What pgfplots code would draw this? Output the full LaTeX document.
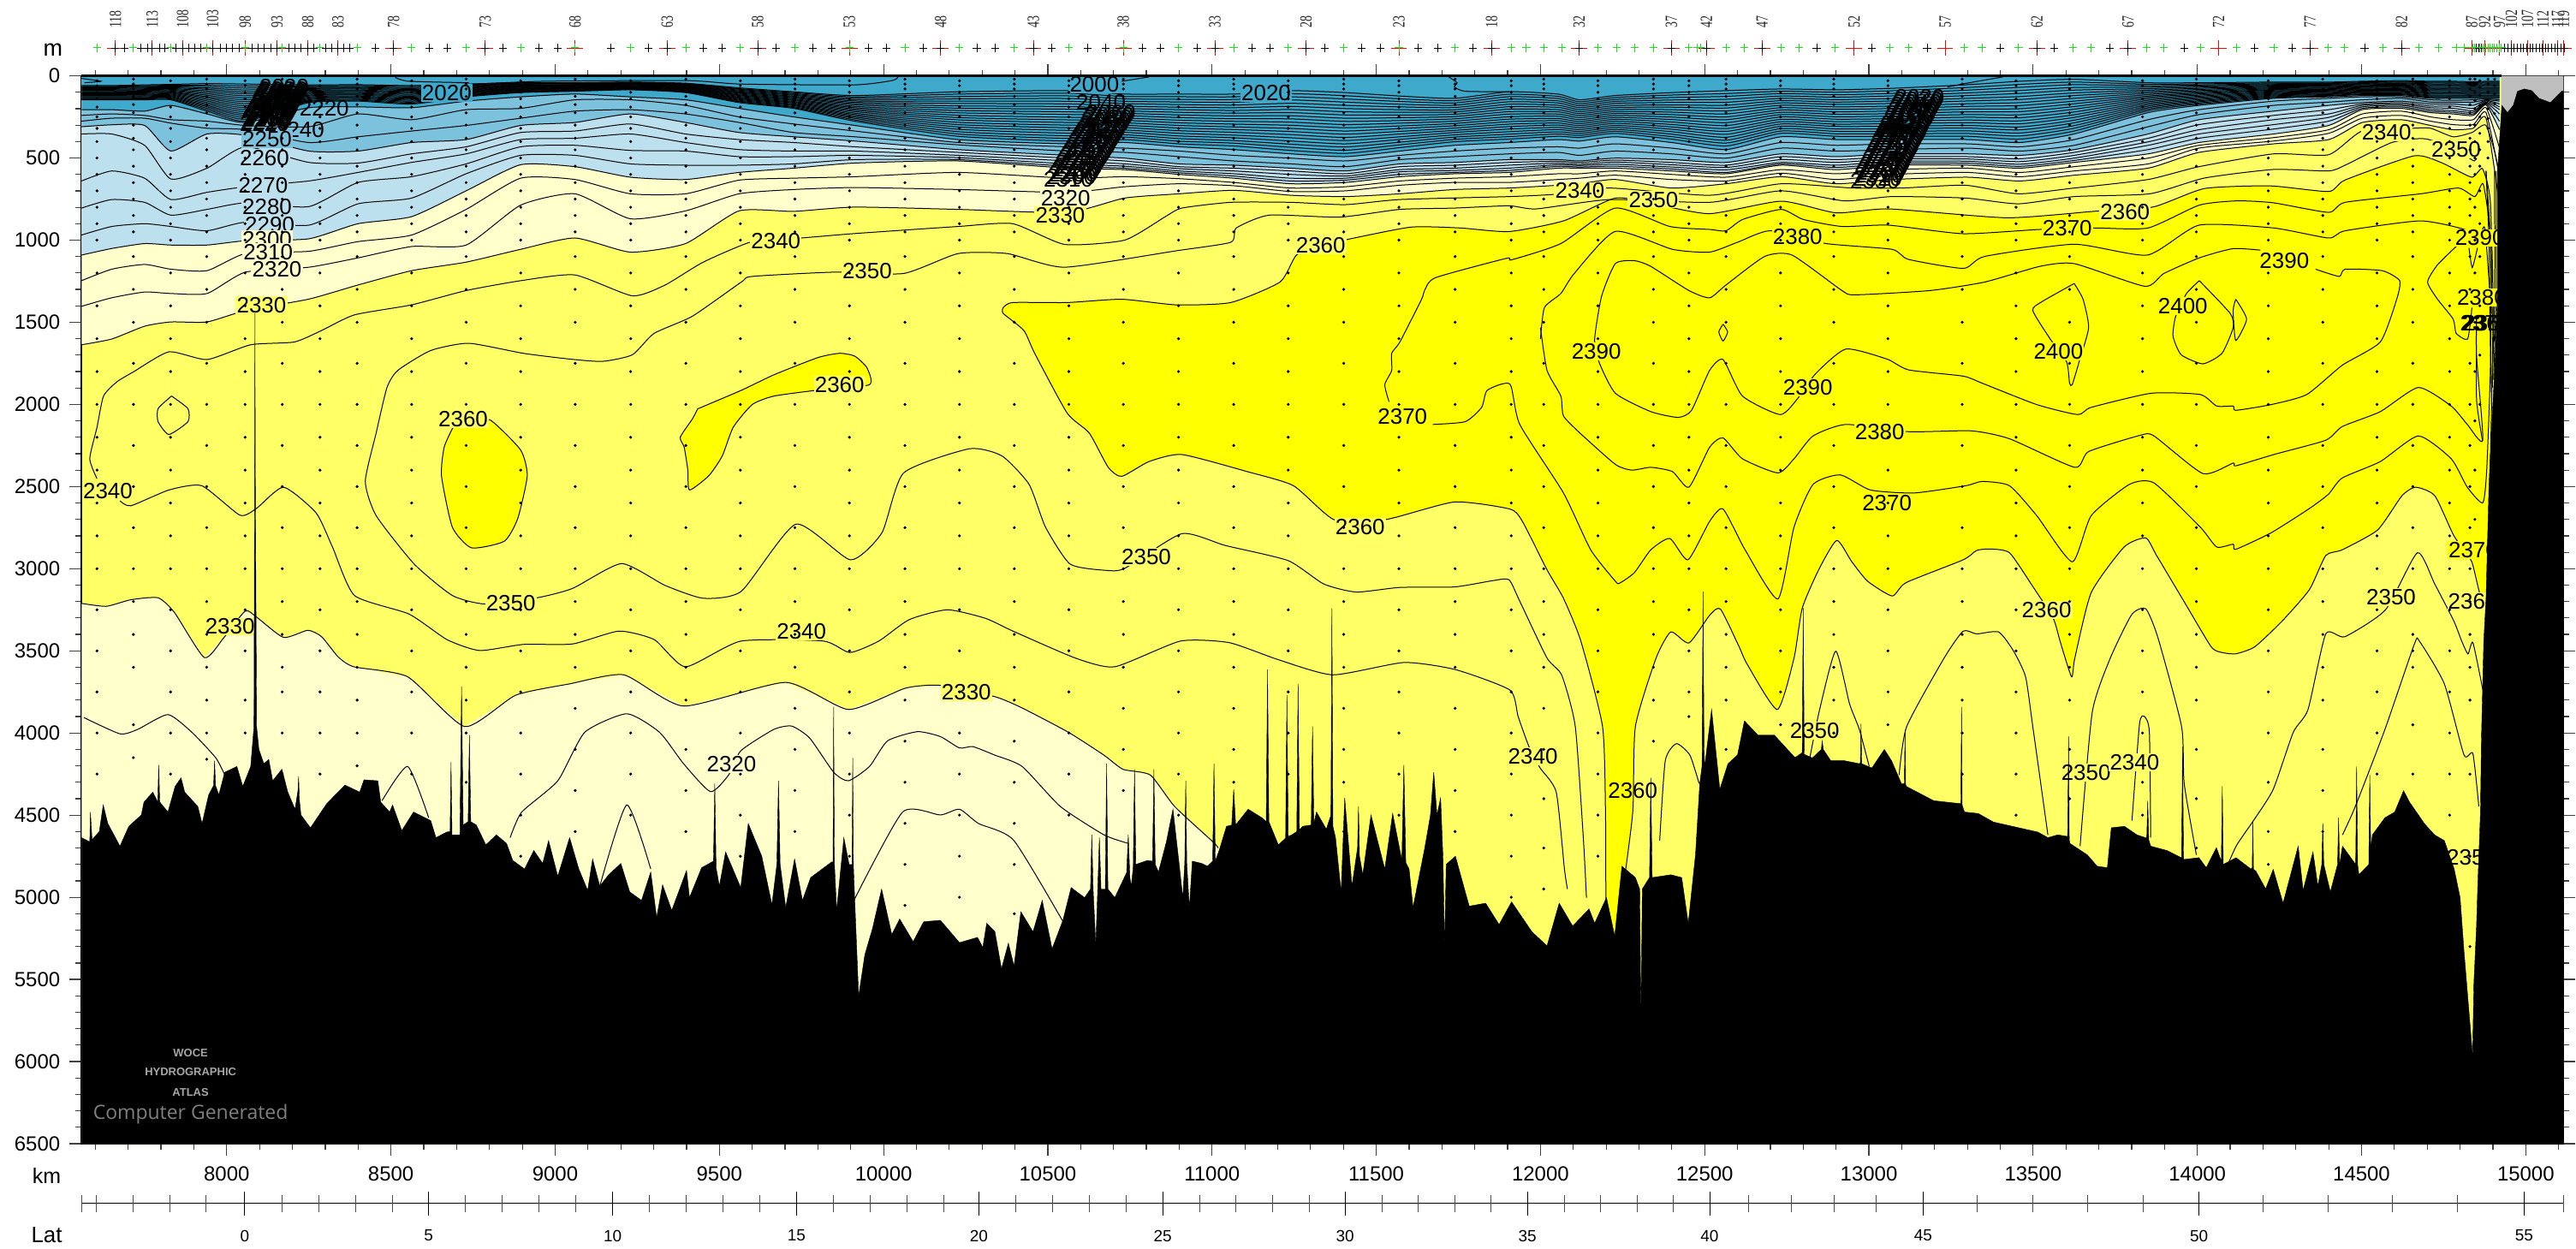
\documentclass[border=0pt]{standalone}
\usepackage{fontspec}
\usepackage{graphicx}
\usepackage{pgfplots}
\usepackage{pgfplotstable}
\pgfplotsset{compat=1.18}
\setmainfont{Liberation Sans}
\newfontfamily\serifst{Liberation Serif}
\newfontfamily\opensans{Open Sans}
\definecolor{teal}{HTML}{3FA9CC}
\definecolor{mid}{HTML}{7DC2DC}
\definecolor{light}{HTML}{BDE0EE}
\definecolor{pale}{HTML}{FFFFCC}
\definecolor{ya}{HTML}{FFFF66}
\definecolor{yb}{HTML}{FFFF00}
\definecolor{grn}{HTML}{22DD22}
\tikzset{lab/.style={inner sep=.6pt,font=\fontsize{13}{14}\selectfont}}
\pgfplotstableread[header=false]{
7558 59 64 68 73 77 82 87 91 96 100 105 109 114 119 123 128 132 137 141 146 206 241 276 310 354 640 805 969 1091 1247 1403 1637
7650 59 64 68 73 77 82 87 91 96 100 105 109 114 119 123 128 132 137 141 146 206 232 258 298 354 579 753 917 1051 1177 1351 1602
7750 55 60 65 69 74 79 84 89 93 98 103 108 113 117 122 127 132 136 141 146 215 241 258 302 423 623 770 900 1021 1148 1316 1524
7830 52 57 62 67 72 77 82 87 92 97 101 106 111 116 121 126 131 136 141 146 180 267 288 458 628 753 848 917 1030 1177 1325 1498
7940 47 56 65 74 82 91 100 109 118 127 135 144 153 162 171 180 188 197 206 215 232 276 319 354 562 709 813 943 1030 1186 1325 1498
8057 50 62 74 86 98 109 121 133 145 157 169 181 193 205 217 229 240 252 264 276 284 302 328 362 432 675 773 891 1004 1082 1195 1429
8250 55 61 66 72 78 83 89 95 101 106 112 118 123 129 135 140 146 152 157 163 194 310 406 458 527 640 796 909 992 1068 1165 1359
8400 54 59 65 70 75 80 86 91 96 102 107 112 117 123 128 133 138 144 149 154 189 232 371 458 531 588 649 779 900 1009 1108 1273
8563 59 65 71 77 83 89 95 101 106 112 118 124 130 136 142 148 154 160 166 172 194 267 336 406 475 527 614 744 857 969 1039 1186
8729 50 54 58 62 66 71 75 79 83 87 91 95 99 103 107 112 116 120 124 128 154 206 302 388 432 475 536 596 700 813 1030 1134
8895 42 45 48 51 55 58 61 64 67 70 74 77 80 83 86 89 93 96 99 102 128 198 258 302 345 388 432 484 541 623 787 1056
9060 42 45 47 50 53 56 58 61 64 67 69 72 75 77 80 83 86 88 91 94 111 146 215 284 336 380 423 484 553 631 718 987
9229 38 40 43 45 48 50 53 55 58 60 63 65 68 70 73 75 78 80 83 85 128 146 206 232 293 354 454 536 617 718 870 1073
9397 45 48 51 54 57 60 63 66 69 72 75 78 81 84 87 90 93 96 99 102 146 180 232 284 354 406 458 544 631 718 822 1021
9560 73 78 82 87 92 97 101 106 111 116 120 125 130 135 139 144 149 154 158 163 198 250 284 345 388 449 492 544 588 635 718 822
9726 97 102 108 113 118 124 129 134 140 145 150 156 161 166 172 177 182 188 193 198 250 293 345 371 406 458 492 536 562 623 692 825
9912 120 128 136 145 153 161 169 177 186 194 202 210 218 227 235 243 251 259 268 276 302 336 371 397 432 458 484 510 531 614 680 799
10227 97 111 126 140 154 168 183 197 211 225 240 254 268 283 297 311 325 340 354 368 388 406 420 449 466 484 498 510 518 588 692 813
10560 90 106 122 138 155 171 187 203 219 235 252 268 284 300 316 332 349 365 381 397 414 432 458 484 501 518 536 550 562 623 709 831
10734 111 126 140 155 169 184 199 213 228 242 257 271 286 301 315 330 344 359 373 388 406 440 466 501 518 536 550 562 571 614 675 744
10900 111 127 143 159 175 191 206 222 238 254 270 286 302 318 334 350 366 382 398 414 432 458 492 536 553 565 579 590 600 626 657 718
11066 111 128 144 161 178 194 211 227 244 261 277 294 311 327 344 361 377 394 410 427 449 484 518 544 562 579 596 610 623 649 669 697
11240 90 109 128 147 167 186 205 224 243 262 282 301 320 339 358 377 397 416 435 454 475 501 536 562 579 600 623 640 657 683 704 727
11406 102 121 141 160 180 199 219 238 258 277 297 316 336 355 375 394 414 433 453 472 492 518 553 579 596 610 623 635 649 675 700 735
11572 123 140 156 173 189 206 222 239 255 272 288 305 321 338 354 371 387 404 420 437 458 484 510 536 553 571 584 600 614 640 666 718
11738 137 151 165 179 193 207 220 234 248 262 276 290 304 318 332 345 359 373 387 401 423 458 492 527 544 562 576 588 596 623 649 692
11904 97 112 127 142 158 173 188 203 218 233 249 264 279 294 309 324 340 355 370 385 406 440 475 510 527 544 562 576 588 614 649 683
12053 111 125 138 152 165 179 192 206 219 233 246 260 273 287 300 314 327 341 354 368 388 432 466 510 520 531 541 551 562 596 631 666
12120 146 158 170 182 194 206 218 230 242 254 267 279 291 303 315 327 339 351 363 375 397 440 484 518 527 538 546 555 562 596 623 657
12228 120 132 144 156 168 181 193 205 217 229 241 253 265 277 289 302 314 326 338 350 371 414 458 501 513 525 538 550 562 579 605 631
12399 102 117 132 147 162 177 191 206 221 236 251 266 281 296 311 325 340 355 370 385 406 440 475 510 527 541 555 567 579 600 631 683
12565 90 108 125 143 161 179 196 214 232 250 267 285 303 321 338 356 374 392 409 427 449 475 501 527 544 558 572 588 596 617 640 657
12733 80 94 108 123 137 151 165 179 194 208 222 236 250 265 279 293 307 321 336 350 371 406 440 475 492 510 527 536 544 571 593 614
12900 85 100 115 130 145 160 174 189 204 219 234 249 264 279 294 308 323 338 353 368 388 423 458 492 510 527 544 558 571 596 631 657
13070 76 91 107 122 138 153 168 184 199 214 230 245 261 276 291 307 322 338 353 368 388 414 449 475 492 506 520 532 544 571 600 631
13300 54 71 87 104 120 137 153 170 186 203 219 236 252 269 285 302 318 335 351 368 388 414 440 475 492 506 520 532 544 562 588 617
13460 33 52 70 89 107 126 144 163 181 200 218 237 255 274 292 311 329 348 366 385 406 432 458 484 505 522 538 551 562 588 614 640
13625 21 38 54 71 87 104 120 137 154 170 187 203 220 237 253 270 286 303 319 336 354 388 423 449 466 484 501 515 527 553 579 605
13850 42 51 60 69 78 87 96 105 114 123 131 140 149 158 167 176 185 194 203 212 224 267 310 354 380 402 423 449 475 501 536 562
14005 42 49 56 62 69 76 83 90 97 104 110 117 124 131 138 145 152 158 165 172 180 206 236 267 297 328 354 380 406 423 440 466
14232 38 43 48 53 58 63 68 73 78 83 87 92 97 102 107 112 117 122 127 132 137 154 180 215 241 267 297 324 354 376 397 414
14400 38 43 47 52 56 61 65 70 74 79 83 88 92 97 101 106 110 114 119 123 128 137 160 180 206 232 253 276 302 328 350 388
14502 33 37 42 46 50 54 59 63 67 71 76 80 84 88 93 97 101 105 110 114 120 128 146 163 172 180 189 198 206 232 258 284
14620 29 34 38 43 47 52 56 61 65 70 74 79 83 88 92 96 101 105 110 114 120 128 137 154 163 172 180 189 198 215 241 267
14710 33 38 43 49 54 59 64 70 75 80 85 90 96 101 106 111 117 122 127 132 137 146 160 172 184 194 205 215 224 250 276 302
14779 33 38 43 49 54 59 64 70 75 80 85 90 96 101 106 111 117 122 127 132 137 149 160 172 184 198 212 222 232 267 297 328
14840 36 41 46 51 56 61 66 71 76 81 87 92 97 102 107 112 117 122 127 132 137 146 160 180 198 212 222 232 241 267 297 319
14879 33 38 43 49 54 59 64 70 75 80 85 90 96 101 106 111 117 122 127 132 137 140 146 149 153 160 165 170 177 194 224 258
14920 33 38 43 49 54 59 64 70 75 80 85 90 96 101 106 111 117 122 127 132 137 146 154 172 189 206 232 276 328 440 614 787
}\T
\def\dotlist{}
\def\col#1#2{\edef\tmpl{#2}\foreach \d in \tmpl {\xdef\dotlist{\dotlist (#1,\d)}}}
\def\Ua{30,60,100,140,190,250,320,400,500,600,700,800,900,1000,1200,1400,1600,1800,2000,2200,2400,2600,2800,3000,3250,3500}
\def\Ub{20,50,80,125,175,225,300,380,450,550,650,750,850,950,1100,1300,1500,1750,2000,2250,2500,2750,3000,3200,3400,3600}
\col{7605}{\Ua,3750,4000,4250}
\col{7716}{\Ub,3950,4150}
\col{7829}{\Ua,3750,4000,4250}
\col{7939}{\Ub,3800,4000,4160}
\col{8056}{\Ua,3800,4000}
\col{8169}{\Ub,3750,4000,4250}
\col{8284}{\Ua,3750,4000,4250}
\col{8397}{\Ub,3800,4000,4200}
\col{8563}{\Ua,3750,4000,4250}
\col{8729}{\Ub,3800,4000,4300}
\col{8895}{\Ua,3750,4000,4250,4500,4750}
\col{9061}{\Ub,3850,4100,4350,4600,4850}
\col{9230}{\Ua,3750,4000,4250,4500}
\col{9398}{\Ub,3800,4100,4350,4600}
\col{9564}{\Ua,3750,4000,4250,4500,4750}
\col{9730}{\Ub,3850,4100,4350,4600}
\col{9896}{\Ua,3750,4000,4250,4500,4750}
\col{10065}{\Ub,3800,4050,4300,4550,4800,5050}
\col{10231}{\Ua,3750,4000,4250,4500,4750,5000}
\col{10398}{\Ub,3800,4050,4300,4550,4800,5100}
\col{10564}{\Ua,3750,4000,4250,4500}
\col{10730}{\Ub,3850,4100,4350}
\col{10898}{\Ua,3750,4000,4250,4500}
\col{11066}{\Ub,3850,4100,4300}
\col{11232}{\Ua,3750,4000,4250}
\col{11401}{\Ub,3850,4100,4300,4600,4850}
\col{11569}{\Ua,3750,4000,4250,4500}
\col{11740}{\Ub,3850,4100,4350,4600,4850}
\col{11911}{\Ua,3750,4000,4250,4500,4750,5000}
\col{12010}{\Ub,3850,4100,4400,4700,4950}
\col{12175}{\Ua,3750,4000,4250,4500,4750}
\col{12344}{\Ub,3800,4050}
\col{12452}{\Ua,3750,3900}
\col{12565}{\Ub,3800,4100}
\col{12731}{\Ua,3750,3950}
\col{12893}{\Ub,3800,4000}
\col{13058}{\Ua,3750,3950}
\col{13284}{\Ub,3800,4000,4250}
\col{13448}{\Ua,3750,4000,4250,4500}
\col{13611}{\Ub,3800,4100,4400}
\col{13833}{\Ua,3750,4000,4300,4500}
\col{13997}{\Ub,3800,4100,4400,4700}
\col{14216}{\Ua,3750,4000,4300,4600,4800}
\col{14382}{\Ub,3800,4100,4350,4600}
\col{14547}{\Ua,3750,4000,4250}
\col{14656}{\Ub,3500,3950,4250}
\col{14768}{\Ua,3750,4000,4250,4500}
\col{14830}{\Ub,3800,4250,4750,5300}
\col{14845}{20,50,100,150,200,300,400,500,600,800,1000,1200,1500,1800,2100,2400,2700}
\col{14860}{30,70,120,180,250,350,450,550,700,900,1100,1400,1700,2000}
\col{14885}{20,50,100,150,200,260,320,400,500}
\col{14905}{20,60,110,170,230}
\newcommand\Lb[4][]{\node[lab,#1] at (axis cs:#2,#3) {#4};}
\newcommand\St[2]{\node[rotate=90,anchor=west,inner sep=0pt,font=\serifst\fontsize{10}{10}\selectfont,text=black!85] at (axis cs:#1,-290) {\scalebox{.7}[1]{#2}};}
\begin{document}
\begin{tikzpicture}
\begin{axis}[at={(0,0)},anchor=south west,scale only axis,width=1451.8pt,height=624.65pt,
 xmin=7558,xmax=15115,ymin=0,ymax=6500,y dir=reverse,clip=false,
 axis background/.style={fill=ya},
 xtick={8000,8500,...,15000},minor xtick={7600,7700,...,15100},
 ytick={0,500,...,6500},minor ytick={0,100,...,6500},
 scaled x ticks=false,scaled y ticks=false,
 tick align=outside,tick pos=both,xticklabel pos=lower,yticklabel pos=left,
 major tick length=7pt,minor tick length=3.5pt,
 tick style={line width=.6pt,black!75},
 /pgf/number format/fixed,/pgf/number format/1000 sep={},/pgf/number format/assume math mode=true,
 ticklabel style={font=\fontsize{12}{14}\selectfont},
 xticklabel style={yshift=-3pt},yticklabel style={xshift=-2pt},
 axis line style={line width=.8pt},
 cl/.style={draw=black,line width=.5pt,smooth,tension=.35},
 fl/.style={draw=none,smooth,tension=.35},
]
% colour bands from the shared contour table
\addplot[fl,fill=pale] table[x index=0,y index=32]{\T} \closedcycle;
\addplot[fl,fill=light] table[x index=0,y index=29]{\T} \closedcycle;
\addplot[fl,fill=mid] table[x index=0,y index=24]{\T} \closedcycle;
\addplot[fl,fill=teal] table[x index=0,y index=21]{\T} \closedcycle;
% grey top right
\addplot[fill=black!25,draw=none] coordinates {(14925,0)(15115,0)(15115,400)(14925,400)(14925,0)};
% lower pale
\addplot[fill=pale,draw=none] coordinates {(7558,3211)(7633,3229)(7708,3189)(7791,3177)(7841,3267)(7932,3541)(7990,3423)(8056,3258)(8090,3293)(8173,3418)(8247,3375)(8289,3414)(8339,3536)(8387,3597)(8551,3658)(8725,3961)(8880,3770)(9044,3701)(9209,3646)(9391,3836)(9702,3692)(9893,3857)(10067,3727)(10173,3710)(10339,3779)(10422,3848)(10563,3996)(10671,4135)(10729,4221)(10812,4256)(10886,4447)(11003,4663)(11019,4700)(11019,6500)(7558,6500)(7558,3211)};
% yellow > 2360
\addplot[fill=yb,cl] coordinates {(10364,1411)(10393,1380)(10559,1380)(10725,1360)(10891,1394)(11057,1380)(11207,1255)(11257,1091)(11331,1030)(11414,995)(11605,921)(11755,926)(11904,948)(12070,883)(12228,744)(12344,779)(12515,839)(12733,763)(12900,834)(13060,810)(13420,864)(13690,824)(13866,798)(14022,686)(14222,670)(14400,704)(14450,634)(14660,487)(14745,530)(14835,617)(14868,565)(14892,764)(14900,1500)(14880,3198)(14835,2955)(14781,2799)(14723,2556)(14665,2504)(14623,2556)(14549,2764)(14441,2885)(14391,2920)(14341,3128)(14258,3319)(14175,3475)(14117,3518)(14075,3510)(14042,3475)(13959,3198)(13876,2920)(13843,2813)(13777,2868)(13677,3145)(13627,3544)(13617,3658)(13582,3441)(13561,3301)(13494,3093)(13428,2903)(13370,2880)(13328,2889)(13287,2946)(13113,3085)(13071,3166)(12996,3076)(12947,2955)(12902,2828)(12847,3007)(12797,3241)(12772,3544)(12721,3857)(12629,3580)(12606,3480)(12548,3246)(12515,3284)(12452,3452)(12397,3385)(12352,3544)(12289,3961)(12281,4481)(12248,5002)(12231,5244)(12201,5088)(12198,4481)(12189,3961)(12123,3441)(12070,3180)(12020,3007)(11945,2712)(11907,2637)(11738,2594)(11531,2700)(11373,2703)(11248,2495)(11107,2409)(10908,2305)(10808,2348)(10725,2438)(10684,2383)(10626,2174)(10559,2053)(10460,1689)(10427,1550)(10364,1446)(10364,1411)};
\addplot[fill=yb,cl] coordinates {(8687,2148)(8662,2261)(8654,2435)(8687,2747)(8745,2873)(8845,2833)(8886,2695)(8915,2435)(8895,2278)(8803,2096)(8720,2070)(8687,2148)};
\addplot[fill=yb,cl] coordinates {(9434,2027)(9567,1914)(9667,1819)(9800,1715)(9866,1689)(9912,1706)(9949,1776)(9957,1880)(9808,1911)(9667,1949)(9600,2001)(9542,2140)(9509,2313)(9468,2434)(9409,2521)(9404,2400)(9393,2261)(9381,2200)(9418,2088)(9434,2027)};
% station dots
\edef\tmpd{\noexpand\addplot[only marks,mark=*,mark size=.62pt,black] coordinates {\dotlist};}\tmpd
% shared contour table lines
\pgfplotsinvokeforeach{1,...,32}{\addplot[cl] table[x index=0,y index=#1]{\T};}
% 2000
\addplot[cl] coordinates {(8754,50)(8969,33)(9401,29)(9564,50)(9912,55)(10028,28)(10045,3)};
\addplot[cl] coordinates {(10725,33)(10808,7)};
\addplot[cl] coordinates {(7558,16)(7617,33)(7567,42)};
\addplot[cl] coordinates {(8513,10)(8554,33)(8737,42)};
\addplot[cl] coordinates {(13239,68)(13298,45)(13407,7)};
\addplot[cl] coordinates {(11721,7)(11746,42)(11738,68)(11771,94)(11904,97)};
% lower 2330
\addplot[cl] coordinates {(7558,3211)(7633,3229)(7708,3189)(7791,3177)(7841,3267)(7932,3541)(7990,3423)(8056,3258)(8090,3293)(8173,3418)(8247,3375)(8289,3414)(8339,3536)(8387,3597)(8551,3658)(8725,3961)(8880,3770)(9044,3701)(9209,3646)(9391,3836)(9702,3692)(9893,3857)(10067,3727)(10173,3710)(10339,3779)(10422,3848)(10563,3996)(10671,4135)(10729,4221)(10812,4256)(10886,4447)(11003,4663)(11019,4700)};
% 2340
\addplot[cl] coordinates {(7605,2452)(7583,2331)(7605,2140)(7625,1949)(7666,1862)(7716,1802)(7824,1680)(7940,1727)(8073,1637)(8206,1620)(8289,1550)(8389,1455)(8563,1394)(8729,1307)(8895,1247)(9060,1212)(9235,1339)(9335,1273)(9451,1134)(9600,1009)(9750,987)(9912,960)(10227,917)(10393,900)(10551,1026)(10734,1000)(10858,857)(10908,805)(11057,770)(11240,770)(11406,784)(11572,753)(11904,735)(12045,721)(12211,683)(12515,727)(12733,657)(12950,683)(13100,683)(13294,666)(13455,718)(13625,683)(13850,631)(14005,553)(14232,475)(14400,480)(14502,336)(14658,319)(14710,319)(14779,371)(14836,345)(14879,302)(14914,544)(14927,926)};
\addplot[cl] coordinates {(7675,2587)(7708,2617)(7824,2521)(7924,2495)(8040,2674)(8090,2634)(8173,2504)(8272,2660)(8322,2868)(8389,3163)(8555,3276)(8671,3432)(8770,3498)(8903,3461)(9053,3458)(9194,3380)(9302,3432)(9397,3597)(9565,3441)(9816,3440)(9897,3510)(9985,3441)(10078,3310)(10194,3250)(10310,3302)(10393,3379)(10584,3544)(10704,3597)(10903,3441)(11052,3450)(11202,3554)(11368,3646)(11584,3571)(11741,3614)(11907,3739)(11932,3900)(11965,4083)(11999,4213)(12048,4360)(12073,4828)(12082,4950)};
\addplot[cl] coordinates {(7832,1949)(7882,2026)(7882,2105)(7824,2183)(7791,2105)(7791,2026)(7832,1949)};
% 2350
\addplot[cl] coordinates {(14860,458)(14843,518)(14790,450)(14693,383)(14592,406)(14450,544)(14399,579)(14232,570)(14022,622)(13855,718)(13625,735)(13455,779)(13294,744)(13070,735)(12925,761)(12733,700)(12515,770)(12211,753)(11987,810)(11904,791)(11738,805)(11572,813)(11389,860)(11174,848)(11074,926)(11057,1013)(10891,1065)(10551,1165)(10377,1082)(10227,1082)(10061,1203)(9849,1195)(9600,1221)(9567,1255)(9418,1463)(9301,1568)(9235,1698)(9144,1738)(9044,1724)(8903,1689)(8737,1628)(8621,1672)(8521,1793)(8488,1897)(8455,2174)(8422,2469)(8455,2677)(8571,2972)(8687,3163)(8787,3215)(8945,3177)(9053,3120)(9202,2969)(9335,3102)(9451,3180)(9567,3137)(9733,2729)(9899,2946)(9995,2781)(10061,2417)(10261,2270)(10360,2313)(10443,2487)(10493,2747)(10568,2972)(10676,3010)(10734,2998)(10908,2787)(11041,2859)(11232,2951)(11340,3093)(11439,3142)(11572,3114)(11738,3111)(11854,3073)(11904,3067)(11937,3198)(12020,3544)(12065,3649)(12106,3961)(12131,4655)(12140,5002)};
% 2370
\addplot[cl] coordinates {(11539,1984)(11526,1880)(11547,1793)(11547,1689)(11572,1620)(11638,1360)(11647,1307)(11680,1229)(11896,1111)(11912,1120)(12062,1021)(12228,805)(12394,917)(12515,935)(12565,943)(12616,874)(12733,813)(12800,874)(12918,917)(13060,909)(13287,961)(13520,935)(13688,926)(13850,926)(14006,787)(14122,761)(14232,773)(14400,831)(14450,770)(14680,718)(14795,683)(14845,735)(14870,657)(14890,926)(14898,1446)(14905,1620)};
\addplot[cl] coordinates {(11672,2122)(11771,2105)(11821,2018)(11838,1914)(11907,1876)(11937,2122)(12070,2539)(12153,2885)(12228,3076)(12241,3088)(12286,3024)(12336,2885)(12394,2816)(12449,2946)(12515,2712)(12556,2637)(12623,2885)(12723,3184)(12772,2747)(12830,2487)(12913,2429)(13005,2521)(13138,2539)(13295,2495)(13345,2469)(13428,2495)(13511,2677)(13619,2958)(13677,2677)(13793,2487)(13868,2478)(14009,2747)(14059,2868)(14109,2851)(14117,2882)(14225,2781)(14341,2634)(14399,2547)(14441,2448)(14557,2348)(14673,2192)(14773,2331)(14822,2504)(14869,2599)(14881,2400)(14892,1800)(14895,1100)(14879,579)};
% 2380
\addplot[cl] coordinates {(12000,1602)(12012,1411)(12062,1325)(12103,1203)(12228,947)(12402,1056)(12515,1073)(12600,1013)(12700,943)(12870,1021)(13070,1056)(13120,1117)(13288,1172)(13353,1099)(13625,1025)(13848,1091)(14005,909)(14232,926)(14400,987)(14450,943)(14680,883)(14825,943)(14852,1030)(14875,926)(14895,1446)};
\addplot[cl] coordinates {(12000,1533)(12020,1793)(12062,1949)(12070,2070)(12120,2174)(12228,2365)(12278,2400)(12336,2383)(12402,2409)(12452,2504)(12515,2261)(12556,2204)(12615,2331)(12723,2417)(12772,2331)(12830,2192)(12930,2122)(13121,2166)(13312,2161)(13428,2209)(13627,2383)(13669,2287)(13826,2188)(13868,2192)(14017,2421)(14109,2357)(14117,2374)(14233,2305)(14391,2218)(14441,2135)(14557,2044)(14673,1897)(14773,2010)(14822,2122)(14869,2218)(14850,1706)(14850,1463)};
% 2390
\addplot[cl] coordinates {(14192,1061)(14108,1052)(14006,1108)(13898,1203)(13840,1281)(13625,1143)(13520,1160)(13353,1255)(13186,1307)(12958,1333)(12918,1307)(12766,1091)(12683,1099)(12565,1273)(12515,1351)(12452,1307)(12336,1160)(12286,1125)(12228,1143)(12186,1342)(12165,1602)(12178,1741)(12228,1932)(12336,2044)(12419,2079)(12460,2036)(12515,1793)(12556,1727)(12615,1949)(12731,2062)(12789,1949)(12839,1810)(12930,1663)(13055,1724)(13121,1790)(13287,1828)(13345,1871)(13511,2001)(13636,2062)(13677,2018)(13860,1932)(14009,1940)(14059,2010)(14109,2010)(14117,2036)(14225,2001)(14333,1940)(14441,1762)(14557,1620)(14607,1360)(14616,1247)(14563,1186)(14450,1177)(14432,1221)(14360,1177)};
\addplot[cl] coordinates {(14788,1039)(14731,1151)(14701,1255)(14731,1359)(14779,1481)(14788,1567)(14823,1602)(14836,1411)};
\addplot[cl] coordinates {(14827,1047)(14837,1168)(14853,1047)};
% 2400
\addplot[cl] coordinates {(13625,1264)(13525,1377)(13499,1429)(13552,1602)(13602,1741)(13611,1871)(13619,1880)(13640,1741)(13669,1533)(13652,1360)(13625,1264)};
\addplot[cl] coordinates {(14006,1247)(13967,1325)(13934,1464)(13926,1585)(13951,1698)(14017,1753)(14075,1689)(14109,1533)(14100,1446)(14006,1247)};
\addplot[cl] coordinates {(14117,1360)(14150,1481)(14117,1611)(14109,1429)(14117,1360)};
\addplot[cl] coordinates {(12556,1512)(12570,1559)(12556,1614)(12543,1559)(12556,1512)};
% near the wall
\addplot[cl] coordinates {(14879,579)(14888,1013)(14892,1619)(14896,1966)};
\addplot[cl] coordinates {(14850,1463)(14850,1966)(14868,2218)};
\addplot[cl] coordinates {(14905,579)(14905,1300)(14898,1900)};
\addplot[cl] coordinates {(14910,579)(14910,1300)(14902,1850)};
% deep arches
\addplot[cl] coordinates {(12820,4152)(12850,3857)(12899,3502)(12941,3822)(12971,3979)(13001,4204)};
\addplot[cl] coordinates {(13092,4256)(13115,3961)(13229,3544)(13287,3380)(13328,3397)(13395,3385)(13440,3500)(13477,3658)(13499,3961)(13545,4620)};
\addplot[cl] coordinates {(13643,4689)(13680,3874)(13735,3544)(13800,3280)(13843,3244)(13880,3420)(13952,3961)(13960,4308)(13997,4742)};
\addplot[cl] coordinates {(13801,4533)(13824,3944)(13839,3900)(13854,3996)(13858,4637)};
\addplot[cl] coordinates {(14080,4863)(14118,4689)(14171,4533)(14231,4343)(14292,3996)(14337,3857)(14391,3397)(14449,3414)(14573,3250)(14670,2903)(14723,3094)(14781,3319)(14805,3441)(14824,3519)(14839,3450)(14869,3736)};
\addplot[cl] coordinates {(14442,4620)(14481,4447)(14571,3979)(14661,3458)(14676,3441)(14752,3701)(14812,4134)(14839,4126)(14857,4447)};
\addplot[cl] coordinates {(7565,3906)(7675,4005)(7729,3978)(7821,3888)(7894,3996)(7967,4152)(7994,4256)};
\addplot[cl] coordinates {(8473,4412)(8551,4204)(8615,4516)};
\addplot[cl] coordinates {(8863,4637)(8898,4482)(9008,4291)(9090,3996)(9218,3883)(9318,3996)(9391,4187)(9473,4357)(9528,4256)(9565,4109)(9665,3979)(9720,3958)(9775,4031)(9848,4239)(9893,4291)(9957,4204)(10012,4048)(10103,3992)(10173,4022)(10231,4091)(10272,4083)(10339,4135)(10422,4204)(10538,4447)(10671,4620)(10745,4672)};
\addplot[cl] coordinates {(9136,4932)(9218,4438)(9291,4828)};
\addplot[cl] coordinates {(9912,5010)(10058,4481)(10173,4499)(10231,4464)(10289,4551)(10397,4655)(10554,5175)};
\addplot[cl] coordinates {(12363,4655)(12380,4169)(12414,4065)(12455,4135)(12483,4308)};
% labels
\Lb[fill=teal]{10642}{50}{2000}
\Lb[fill=teal]{8670}{102}{2020}
\Lb[fill=teal]{11165}{102}{2020}
\pgfplotsinvokeforeach{0,...,20}{\node[lab] at (axis cs:{8175-3*#1},{70+11*#1}) {\pgfmathparse{int(2020+10*#1)}\pgfmathresult};}
\Lb{8297}{198}{2220}
\Lb{8222}{328}{2240}
\Lb[fill=mid]{8123}{388}{2250}
\Lb[fill=light]{8115}{501}{2260}
\Lb[fill=light]{8111}{666}{2270}
\Lb[fill=light]{8123}{799}{2280}
\Lb[fill=light]{8131}{908}{2290}
\Lb[fill=pale]{8123}{995}{2300}
\Lb[fill=pale]{8126}{1073}{2310}
\Lb[fill=pale]{8153}{1177}{2320}
\Lb[fill=ya]{8106}{1398}{2330}
\Lb{10662}{163}{2040}
\pgfplotsinvokeforeach{0,...,24}{\node[lab] at (axis cs:{10692-5*#1},{224+16.3*#1}) {\pgfmathparse{int(2060+10*#1)}\pgfmathresult};}
\Lb{10563}{631}{2310}
\Lb[fill=pale]{10554}{744}{2320}
\Lb[fill=ya]{10538}{848}{2330}
\pgfplotsinvokeforeach{0,...,30}{\node[lab] at (axis cs:{13155-4.3*#1},{128+16.5*#1}) {\pgfmathparse{int(2020+10*#1)}\pgfmathresult};}
\Lb{13018}{640}{2330}
\Lb[fill=ya]{9672}{1004}{2340}
\Lb[fill=ya]{9950}{1190}{2350}
\Lb[fill=ya]{11331}{1030}{2360}
\Lb[fill=ya]{12120}{700}{2340}
\Lb[fill=ya]{12344}{753}{2350}
\Lb[fill=yb]{12783}{978}{2380}
\Lb[fill=yb]{13604}{926}{2370}
\Lb[fill=ya]{13780}{830}{2360}
\Lb[fill=ya]{14576}{345}{2340}
\Lb[fill=ya]{14788}{449}{2350}
\Lb[fill=yb]{14265}{1125}{2390}
\Lb[fill=yb]{14860}{987}{2390}
\Lb[fill=yb]{14866}{1351}{2380}
\Lb{14875}{1507}{2370}
\Lb{14880}{1507}{2360}
\Lb{14885}{1507}{2350}
\Lb[fill=yb]{14840}{2885}{2370}
\Lb[fill=ya]{14839}{3198}{2360}
\Lb{14835}{4759}{2350}
\Lb[fill=yb]{12170}{1677}{2390}
\Lb[fill=yb]{12814}{1897}{2390}
\Lb[fill=yb]{13033}{2169}{2380}
\Lb[fill=yb]{13577}{1677}{2400}
\Lb[fill=yb]{13956}{1403}{2400}
\Lb[fill=yb]{11580}{2076}{2370}
\Lb[fill=yb]{13055}{2599}{2370}
\Lb[fill=ya]{11451}{2747}{2360}
\Lb[fill=ya]{10800}{2929}{2350}
\Lb[fill=ya]{8865}{3211}{2350}
\Lb[fill=ya]{10252}{3750}{2330}
\Lb[fill=ya]{8010}{3353}{2330}
\Lb[fill=ya]{7638}{2525}{2340}
\Lb[fill=ya]{9750}{3380}{2340}
\Lb[fill=ya]{8720}{2088}{2360}
\Lb[fill=ya]{9866}{1880}{2360}
\Lb[fill=pale]{9537}{4190}{2320}
\Lb[fill=ya]{11977}{4143}{2340}
\Lb{12281}{4351}{2360}
\Lb[fill=ya]{13541}{3250}{2360}
\Lb[fill=ya]{14590}{3171}{2350}
\Lb[fill=ya]{13661}{4242}{2350}
\Lb[fill=ya]{13809}{4178}{2340}
\Lb[fill=ya]{12835}{3987}{2350}
% bathymetry
\addplot[fill=black,draw=black,line width=.2pt] coordinates {(7558,4637)(7583,4663)(7585,4481)(7590,4650)(7612,4600)(7624,4438)(7638,4551)(7675,4689)(7702,4568)(7740,4499)(7748,4421)(7775,4360)(7790,4420)(7793,4195)(7796,4420)(7821,4481)(7843,4325)(7861,4273)(7872,4360)(7912,4447)(7925,4551)(7945,4377)(7960,4320)(7963,4169)(7966,4320)(7976,4377)(7994,4239)(8031,4204)(8049,4325)(8073,4204)(8083,3961)(8085,2400)(8086,1446)(8087,2400)(8091,3961)(8098,4100)(8113,4187)(8128,4161)(8140,4291)(8168,4221)(8186,4360)(8208,4464)(8217,4350)(8219,4265)(8221,4400)(8226,4499)(8255,4577)(8305,4429)(8360,4317)(8405,4360)(8418,4285)(8460,4291)(8469,4421)(8496,4481)(8505,4438)(8533,4594)(8569,4481)(8621,4533)(8637,4637)(8670,4603)(8680,4600)(8683,4178)(8686,4620)(8710,4620)(8715,3718)(8720,4560)(8735,4540)(8739,4013)(8743,4540)(8760,4560)(8789,4681)(8821,4620)(8852,4672)(8871,4776)(8907,4828)(8935,4715)(8962,4794)(8980,4655)(9008,4872)(9044,4637)(9072,4828)(9099,4958)(9114,4767)(9136,4932)(9163,4863)(9200,4794)(9227,4967)(9263,5019)(9291,4846)(9309,5123)(9327,4924)(9355,5080)(9400,4837)(9409,5002)(9446,4820)(9482,4780)(9486,4308)(9490,4820)(9500,4932)(9519,4724)(9565,4941)(9588,4551)(9629,4750)(9660,5045)(9675,4800)(9680,4291)(9685,4800)(9702,5062)(9729,4767)(9753,5019)(9778,4880)(9842,4785)(9846,4785)(9848,3840)(9850,4780)(9857,5080)(9879,4637)(9895,4800)(9904,4800)(9906,4152)(9908,4800)(9912,5010)(9924,5600)(9943,5349)(9966,5192)(9994,4950)(10025,5227)(10049,5132)(10090,5270)(10122,5149)(10173,5140)(10231,5276)(10286,5244)(10302,5305)(10314,5158)(10339,5210)(10359,5435)(10380,5279)(10397,5418)(10418,5088)(10455,5210)(10483,5019)(10513,5314)(10546,5140)(10571,4941)(10612,5002)(10630,4950)(10634,4620)(10638,4950)(10646,5288)(10652,4950)(10657,4637)(10662,4950)(10675,4950)(10679,4187)(10683,4950)(10704,5002)(10740,4850)(10745,4620)(10750,4880)(10754,4932)(10760,4820)(10764,4221)(10768,4800)(10803,4776)(10819,4780)(10823,4221)(10827,4800)(10837,4846)(10861,4663)(10881,4464)(10900,4800)(10911,5002)(10917,4790)(10920,4291)(10923,4790)(10931,5062)(10940,4780)(10969,4794)(10986,4811)(11002,4780)(11006,4187)(11010,4780)(11023,4707)(11044,4568)(11060,4560)(11066,4343)(11072,4560)(11110,4464)(11152,4516)(11165,4540)(11169,3614)(11173,4540)(11202,4681)(11224,4640)(11228,3770)(11232,4630)(11243,4620)(11258,4600)(11262,3701)(11266,4590)(11276,4568)(11302,4560)(11306,3961)(11310,4550)(11318,4481)(11348,4585)(11362,4500)(11365,3240)(11368,4568)(11376,4637)(11393,4967)(11404,4395)(11426,4932)(11443,4700)(11446,4447)(11449,4750)(11459,4863)(11484,4499)(11526,4828)(11550,4490)(11578,4776)(11584,4195)(11590,4790)(11600,4828)(11612,5062)(11647,4707)(11665,4500)(11675,4239)(11685,4500)(11696,4395)(11703,4750)(11708,5296)(11713,4800)(11741,4750)(11783,5054)(11833,5036)(11874,5166)(11912,5028)(11974,5210)(12020,5296)(12057,5036)(12098,5175)(12148,5071)(12165,5158)(12201,5002)(12226,5236)(12248,4811)(12289,4880)(12302,4950)(12306,5750)(12310,4950)(12332,4880)(12336,4273)(12340,4880)(12397,4863)(12430,4880)(12450,5158)(12472,4741)(12485,4308)(12492,4200)(12495,3140)(12498,4100)(12500,4204)(12521,3857)(12546,4343)(12571,4187)(12600,4134)(12621,3926)(12662,4013)(12712,4013)(12775,4150)(12797,4120)(12800,3240)(12803,4130)(12828,4152)(12855,4100)(12858,4048)(12861,4100)(12884,4169)(12926,4169)(12971,4187)(12974,4180)(12976,3944)(12978,4187)(13009,4213)(13047,4100)(13069,4169)(13099,4308)(13108,4310)(13110,3979)(13112,4315)(13114,4325)(13197,4412)(13273,4429)(13280,4430)(13282,3840)(13284,4440)(13291,4481)(13333,4490)(13379,4542)(13514,4603)(13545,4637)(13575,4620)(13605,4630)(13608,4022)(13610,4650)(13612,4672)(13665,4742)(13695,4811)(13726,4820)(13738,4577)(13778,4568)(13816,4620)(13846,4640)(13849,4412)(13852,4650)(13858,4689)(13907,4715)(13952,4760)(13955,4083)(13958,4770)(14005,4759)(14027,4820)(14058,4698)(14073,4780)(14076,4325)(14079,4800)(14118,4759)(14163,4828)(14167,4820)(14169,4533)(14171,4830)(14178,4840)(14208,4949)(14231,4830)(14261,5036)(14307,4689)(14322,4958)(14352,4724)(14367,4932)(14379,4800)(14382,4551)(14385,4800)(14405,4967)(14427,4800)(14430,4516)(14433,4800)(14442,4689)(14482,4800)(14485,4204)(14488,4800)(14492,4863)(14522,4800)(14525,4256)(14528,4700)(14533,4620)(14571,4516)(14601,4481)(14628,4351)(14646,4421)(14661,4464)(14691,4551)(14722,4620)(14752,4655)(14782,4828)(14800,5002)(14812,5331)(14827,5695)(14838,5960)(14842,5522)(14850,5175)(14854,4915)(14862,4481)(14865,4030)(14872,3441)(14879,3180)(14888,2486)(14896,2140)(14905,1793)(14914,1325)(14914,579)(14927,180)(14944,224)(14962,180)(14975,94)(14996,80)(15018,90)(15040,137)(15075,163)(15109,94)(15115,94)(15115,6500)(7558,6500)(7558,4637)};
\draw[line width=1.7pt,black] (axis cs:7558,0) -- (axis cs:14925,0);
% station strip
\addplot[only marks,mark=+,mark size=4.7pt,red,mark options={line width=.45pt}] coordinates {(7661,-170)(7773,-170)(7866,-170)(7957,-170)(8056,-170)(8153,-170)(8247,-170)(8339,-170)(8508,-170)(8787,-170)(9061,-170)(9341,-170)(9617,-170)(9896,-170)(10174,-170)(10456,-170)(10730,-170)(11009,-170)(11286,-170)(11569,-170)(11851,-170)(12118,-170)(12399,-170)(12505,-170)(12675,-170)(12955,-170)(13232,-170)(13512,-170)(13789,-170)(14065,-170)(14343,-170)(14622,-170)(14836,-170)(14875,-170)(14920,-170)(14956,-170)(15005,-170)(15052,-170)(15096,-170)(15115,-170)};
\addplot[only marks,mark=+,mark size=2.3pt,black,mark options={line width=.45pt}] coordinates {(7661,-170)(7773,-170)(7866,-170)(7957,-170)(8153,-170)(8247,-170)(8339,-170)(8508,-170)(8787,-170)(9341,-170)(9617,-170)(10174,-170)(10456,-170)(11009,-170)(11286,-170)(11851,-170)(12118,-170)(12399,-170)(12505,-170)(12675,-170)(13512,-170)(13789,-170)(14343,-170)(14622,-170)(7690,-170)(7738,-170)(7758,-170)(7796,-170)(7812,-170)(7846,-170)(7885,-170)(7902,-170)(7920,-170)(7980,-170)(7998,-170)(8018,-170)(8037,-170)(8076,-170)(8095,-170)(8115,-170)(8134,-170)(8189,-170)(8208,-170)(8227,-170)(8266,-170)(8302,-170)(8320,-170)(8357,-170)(8375,-170)(8452,-170)(8616,-170)(8671,-170)(8842,-170)(8950,-170)(9008,-170)(9170,-170)(9285,-170)(9451,-170)(9509,-170)(9672,-170)(9785,-170)(9841,-170)(9954,-170)(10008,-170)(10120,-170)(10284,-170)(10340,-170)(10511,-170)(10621,-170)(10676,-170)(10788,-170)(10843,-170)(10956,-170)(11122,-170)(11177,-170)(11343,-170)(11456,-170)(11512,-170)(11627,-170)(11687,-170)(11794,-170)(12841,-170)(13010,-170)(13177,-170)(13400,-170)(13565,-170)(13733,-170)(13961,-170)(14175,-170)(14288,-170)(14509,-170)(14849,-170)(14858,-170)(14866,-170)(14936,-170)(14946,-170)(14955,-170)(14965,-170)(14974,-170)(14984,-170)(14993,-170)(15003,-170)(15012,-170)(15022,-170)(15031,-170)(15041,-170)(15050,-170)(15060,-170)(15069,-170)(15079,-170)(15088,-170)(15098,-170)(15107,-170)(15117,-170)};
\addplot[only marks,mark=+,mark size=2.3pt,grn,mark options={line width=.5pt}] coordinates {(7605,-170)(7716,-170)(7829,-170)(7939,-170)(8056,-170)(8169,-170)(8284,-170)(8397,-170)(8563,-170)(8729,-170)(8895,-170)(9061,-170)(9230,-170)(9398,-170)(9564,-170)(9730,-170)(9896,-170)(10065,-170)(10231,-170)(10398,-170)(10564,-170)(10730,-170)(10898,-170)(11066,-170)(11232,-170)(11401,-170)(11569,-170)(11740,-170)(11911,-170)(11957,-170)(12010,-170)(12065,-170)(12175,-170)(12233,-170)(12287,-170)(12344,-170)(12452,-170)(12477,-170)(12488,-170)(12566,-170)(12621,-170)(12733,-170)(12788,-170)(12897,-170)(13063,-170)(13122,-170)(13291,-170)(13344,-170)(13456,-170)(13621,-170)(13676,-170)(13845,-170)(13898,-170)(14010,-170)(14120,-170)(14233,-170)(14399,-170)(14448,-170)(14565,-170)(14675,-170)(14735,-170)(14788,-170)(14814,-170)(14840,-170)(14845,-170)(14860,-170)(14870,-170)(14878,-170)(14885,-170)(14892,-170)(14900,-170)(14905,-170)(14912,-170)(14920,-170)(14926,-170)};
\St{7661}{118}\St{7773}{113}\St{7866}{108}\St{7957}{103}\St{8056}{98}\St{8153}{93}\St{8247}{88}\St{8339}{83}\St{8508}{78}\St{8787}{73}\St{9061}{68}\St{9341}{63}\St{9617}{58}\St{9896}{53}\St{10174}{48}\St{10456}{43}\St{10730}{38}\St{11009}{33}\St{11286}{28}\St{11569}{23}\St{11851}{18}\St{12118}{32}\St{12399}{37}\St{12505}{42}\St{12675}{47}\St{12955}{52}\St{13232}{57}\St{13512}{62}\St{13789}{67}\St{14065}{72}\St{14343}{77}\St{14622}{82}\St{14836}{87}\St{14875}{92}\St{14920}{97}\St{14956}{102}\St{15005}{107}\St{15052}{112}\St{15096}{117}\St{15115}{119}
% latitude strip
\addplot[black,line width=.5pt,mark=|,mark size=5pt,mark options={black!70,line width=.4pt}] coordinates {(7558,6864)(7603,6864)(7714,6864)(7826,6864)(7937,6864)(8168,6864)(8280,6864)(8392,6864)(8504,6864)(8727,6864)(8839,6864)(8951,6864)(9063,6864)(9287,6864)(9399,6864)(9511,6864)(9623,6864)(9847,6864)(9958,6864)(10070,6864)(10182,6864)(10402,6864)(10514,6864)(10626,6864)(10738,6864)(10962,6864)(11073,6864)(11184,6864)(11295,6864)(11517,6864)(11628,6864)(11739,6864)(11850,6864)(12072,6864)(12183,6864)(12294,6864)(12405,6864)(12633,6864)(12763,6864)(12893,6864)(13023,6864)(13330,6864)(13498,6864)(13666,6864)(13834,6864)(14200,6864)(14397,6864)(14594,6864)(14791,6864)(15115,6864)};
\addplot[only marks,mark=|,mark size=7pt,black,mark options={line width=.45pt}] coordinates {(8055,6864)(8615,6864)(9175,6864)(9735,6864)(10290,6864)(10850,6864)(11405,6864)(11960,6864)(12515,6864)(13165,6864)(14005,6864)(14995,6864)};
\node[font=\fontsize{9.5}{10}\selectfont] at (axis cs:8055,7060) {0};
\node[font=\fontsize{9.5}{10}\selectfont] at (axis cs:8615,7060) {5};
\node[font=\fontsize{9.5}{10}\selectfont] at (axis cs:9175,7060) {10};
\node[font=\fontsize{9.5}{10}\selectfont] at (axis cs:9735,7060) {15};
\node[font=\fontsize{9.5}{10}\selectfont] at (axis cs:10290,7060) {20};
\node[font=\fontsize{9.5}{10}\selectfont] at (axis cs:10850,7060) {25};
\node[font=\fontsize{9.5}{10}\selectfont] at (axis cs:11405,7060) {30};
\node[font=\fontsize{9.5}{10}\selectfont] at (axis cs:11960,7060) {35};
\node[font=\fontsize{9.5}{10}\selectfont] at (axis cs:12515,7060) {40};
\node[font=\fontsize{9.5}{10}\selectfont] at (axis cs:13165,7060) {45};
\node[font=\fontsize{9.5}{10}\selectfont] at (axis cs:14005,7060) {50};
\node[font=\fontsize{9.5}{10}\selectfont] at (axis cs:14995,7060) {55};
\node[font=\fontsize{13.5}{14}\selectfont] at (axis cs:7471,-160) {m};
\node[font=\fontsize{12.5}{14}\selectfont] at (axis cs:7452,6693) {km};
\node[font=\fontsize{13}{14}\selectfont] at (axis cs:7452,7057) {Lat};
\node[text=black!35,font=\bfseries\fontsize{6.5}{7}\selectfont] at (axis cs:7890,5948) {WOCE};
\node[text=black!35,font=\bfseries\fontsize{6.5}{7}\selectfont] at (axis cs:7890,6063) {HYDROGRAPHIC};
\node[text=black!35,font=\bfseries\fontsize{6.5}{7}\selectfont] at (axis cs:7890,6188) {ATLAS};
\node[text=black!50,font=\opensans\fontsize{11.5}{12}\selectfont] at (axis cs:7890,6318) {Computer Generated};
\end{axis}
\path[use as bounding box] (-47.7pt,-61pt) rectangle (1456.8pt,669pt);
\end{tikzpicture}
\end{document}
